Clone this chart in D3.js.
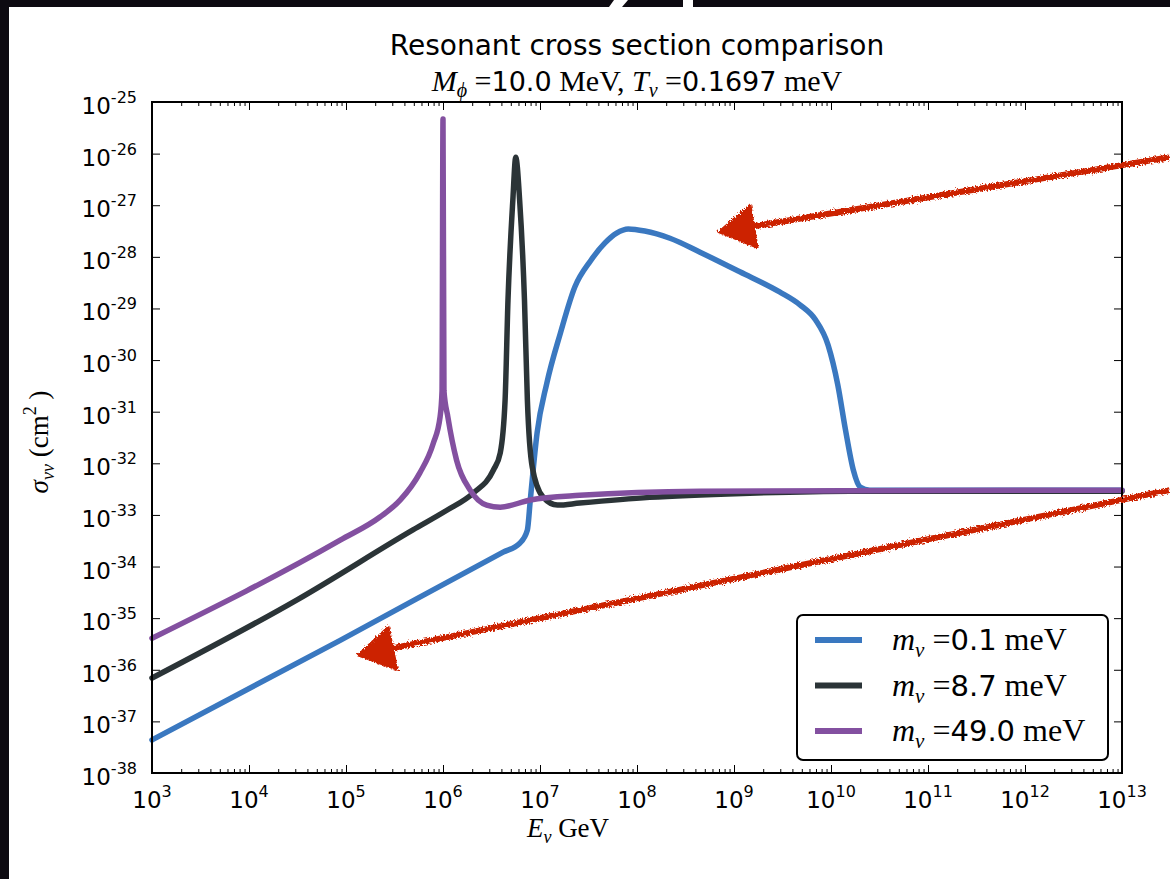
<!DOCTYPE html>
<meta charset="utf-8">
<style>
body { margin: 0; background: #0d0a11; }
svg { display: block; }
.axis path { display: none; }
.axis line { stroke: #000; stroke-width: 1; }
.sans { font-family: 'DejaVu Sans', sans-serif; }
.serif { font-family: 'Liberation Serif', serif; }
</style>
<body>
<script src="https://d3js.org/d3.v7.min.js"></script>
<script>

// ---- data (log10 values) ----
var labels = ["0.1", "8.7", "49.0"];
var colors = ["#3a78c0", "#2b3437", "#8350a0"];

var blueLogE = [3.00, 4.94, 6.62, 6.79, 6.87, 6.90, 6.97, 7.07, 7.21, 7.36, 7.52, 7.67, 7.79, 7.91, 8.08, 8.34, 8.65, 9.06, 9.47, 9.68, 9.84, 9.97, 10.07, 10.15, 10.23, 10.30, 10.40, 13.00];
var blueLogSigma = [-37.36, -35.43, -33.72, -33.55, -33.29, -32.71, -31.41, -30.45, -29.48, -28.58, -28.08, -27.73, -27.54, -27.46, -27.50, -27.64, -27.91, -28.29, -28.68, -28.93, -29.22, -29.71, -30.48, -31.36, -32.13, -32.46, -32.52, -32.52];

var blackLogE = [3.00, 4.50, 5.69, 6.04, 6.31, 6.52, 6.59, 6.64, 6.67, 6.72, 6.75, 6.79, 6.84, 6.87, 6.92, 7.03, 7.18, 7.41, 8.13, 9.16, 10.20, 13.00];
var blackLogSigma = [-36.16, -34.64, -33.29, -32.91, -32.58, -32.13, -31.80, -30.78, -28.84, -26.90, -26.07, -26.90, -28.84, -30.78, -32.07, -32.65, -32.81, -32.77, -32.66, -32.58, -32.54, -32.54];

var purpleLogE = [3.00, 4.94, 5.35, 5.56, 5.76, 5.90, 5.97, 5.99, 6.00, 6.01, 6.05, 6.14, 6.28, 6.45, 6.59, 6.90, 7.41, 8.65, 13.00];
var purpleLogSigma = [-35.39, -33.49, -33.04, -32.71, -32.19, -31.61, -31.10, -30.60, -25.33, -30.60, -31.10, -31.94, -32.52, -32.81, -32.85, -32.71, -32.62, -32.54, -32.52];

var xExponents = d3.range(3, 14);      // 10^3 .. 10^13
var yExponents = d3.range(-38, -24);   // 10^-38 .. 10^-25

// red hand-drawn arrows (tail -> tip), in log10 data units
var arrowTails = [[13.49, -26.07], [13.49, -32.52]];
var arrowTips  = [[8.84, -27.52], [5.12, -35.72]];

var W = 1170, H = 879;
var margin = {top: 102, right: 48, bottom: 106, left: 152};
var width = W - margin.left - margin.right,
    height = H - margin.top - margin.bottom;

var svg = d3.select("body").append("svg")
    .attr("width", W)
    .attr("height", H);

// slide background + white panel
svg.append("rect").attr("width", W).attr("height", H).attr("fill", "#0d0a11");
svg.append("rect").attr("x", 9).attr("y", 7).attr("width", W - 9).attr("height", H - 7).attr("fill", "#fff");
// bits of the slide heading peeking in at the top
svg.append("path").attr("d", "M614,0 L628,0 L622,7 L609,7 Z").attr("fill", "#fff");
svg.append("rect").attr("x", 683).attr("y", 0).attr("width", 10).attr("height", 7).attr("fill", "#fff");

var x = d3.scaleLog().domain([1e3, 1e13]).range([0, width]),
    y = d3.scaleLog().domain([1e-38, 1e-25]).range([height, 0]);

var g = svg.append("g").attr("transform", "translate(" + margin.left + "," + margin.top + ")");

// minor x ticks
var minor = [];
xExponents.slice(0, -1).forEach(function(e) {
  for (var k = 2; k < 10; k++) minor.push(k * Math.pow(10, e));
});
var majorX = xExponents.map(function(e) { return Math.pow(10, e); });
var majorY = yExponents.map(function(e) { return Math.pow(10, e); });

g.append("g").attr("class", "axis").attr("transform", "translate(0," + height + ")")
  .call(d3.axisBottom(x).tickValues(majorX).tickSize(-8).tickFormat(""));
g.append("g").attr("class", "axis").attr("transform", "translate(0," + height + ")")
  .call(d3.axisBottom(x).tickValues(minor).tickSize(-4).tickFormat(""));
g.append("g").attr("class", "axis")
  .call(d3.axisTop(x).tickValues(majorX).tickSize(-8).tickFormat(""));
g.append("g").attr("class", "axis")
  .call(d3.axisTop(x).tickValues(minor).tickSize(-4).tickFormat(""));
g.append("g").attr("class", "axis")
  .call(d3.axisLeft(y).tickValues(majorY).tickSize(-8).tickFormat(""));
g.append("g").attr("class", "axis").attr("transform", "translate(" + width + ",0)")
  .call(d3.axisRight(y).tickValues(majorY).tickSize(-8).tickFormat(""));

// tick labels with superscripts
var xl = g.append("g").selectAll("text").data(xExponents).enter().append("text")
    .attr("class", "sans")
    .attr("x", function(d) { return x(Math.pow(10, d)); })
    .attr("y", height + 35)
    .attr("text-anchor", "middle")
    .attr("font-size", 23);
xl.append("tspan").text("10");
xl.append("tspan").attr("dy", -11).attr("font-size", 16).text(function(d) { return d; });

var yl = g.append("g").selectAll("text").data(yExponents).enter().append("text")
    .attr("class", "sans")
    .attr("x", -15)
    .attr("y", function(d) { return y(Math.pow(10, d)) + 12; })
    .attr("text-anchor", "end")
    .attr("font-size", 23);
yl.append("tspan").text("10");
yl.append("tspan").attr("dy", -11).attr("font-size", 16).text(function(d) { return d; });

// curves
var series = [
  {e: blueLogE, s: blueLogSigma},
  {e: blackLogE, s: blackLogSigma},
  {e: purpleLogE, s: purpleLogSigma}
];

var line = d3.line()
    .curve(d3.curveMonotoneX)
    .x(function(d) { return x(Math.pow(10, d[0])); })
    .y(function(d) { return y(Math.pow(10, d[1])); });

series.forEach(function(sr, i) {
  g.append("path")
    .datum(sr.e.map(function(v, j) { return [v, sr.s[j]]; }))
    .attr("fill", "none")
    .attr("stroke", colors[i])
    .attr("stroke-width", 5.5)
    .attr("stroke-linejoin", "round")
    .attr("stroke-linecap", "round")
    .attr("d", line);
});

// frame
g.append("rect").attr("width", width).attr("height", height)
  .attr("fill", "none").attr("stroke", "#000").attr("stroke-width", 2);

// legend
var leg = g.append("g").attr("transform", "translate(" + (797 - margin.left) + "," + (615 - margin.top) + ")");
leg.append("rect").attr("width", 311).attr("height", 145).attr("rx", 6)
  .attr("fill", "#fff").attr("stroke", "#000").attr("stroke-width", 2);
labels.forEach(function(lab, i) {
  var yy = 25 + i * 45.5;
  leg.append("line").attr("x1", 18).attr("x2", 65).attr("y1", yy).attr("y2", yy)
    .attr("stroke", colors[i]).attr("stroke-width", 6);
  var t = leg.append("text").attr("x", 95).attr("y", yy + 10).attr("font-size", 32);
  t.append("tspan").attr("class", "serif").attr("font-style", "italic").text("m");
  t.append("tspan").attr("class", "serif").attr("font-style", "italic").attr("font-size", 21).attr("dy", 7).text("ν");
  t.append("tspan").attr("class", "serif").attr("dy", -7).text(" =");
  t.append("tspan").attr("class", "sans").attr("font-size", 29).text(lab);
  t.append("tspan").attr("class", "serif").text(" meV");
});

// arrows
var defs = svg.append("defs");
var f = defs.append("filter").attr("id", "rough").attr("x", "-10%").attr("y", "-10%").attr("width", "120%").attr("height", "120%");
f.append("feTurbulence").attr("type", "fractalNoise").attr("baseFrequency", 0.6).attr("numOctaves", 2).attr("seed", 3).attr("result", "n");
f.append("feDisplacementMap").attr("in", "SourceGraphic").attr("in2", "n").attr("scale", 5);

var arrows = g.append("g").attr("filter", "url(#rough)");
arrowTails.forEach(function(tail, i) {
  var tip = arrowTips[i];
  var x0 = x(Math.pow(10, tail[0])), y0 = y(Math.pow(10, tail[1])),
      x1 = x(Math.pow(10, tip[0])), y1 = y(Math.pow(10, tip[1]));
  var dx = x0 - x1, dy = y0 - y1, L = Math.sqrt(dx * dx + dy * dy);
  var ux = dx / L, uy = dy / L;
  var hl = 36, hw = 22;
  var bx = x1 + ux * hl, by = y1 + uy * hl;
  arrows.append("line").attr("x1", x0).attr("y1", y0).attr("x2", bx).attr("y2", by)
    .attr("stroke", "#cc2200").attr("stroke-width", 6);
  arrows.append("path")
    .attr("d", "M" + x1 + "," + y1 + "L" + (bx - uy * hw) + "," + (by + ux * hw) +
               "L" + (bx + uy * hw) + "," + (by - ux * hw) + "Z")
    .attr("fill", "#cc2200").attr("stroke", "#cc2200").attr("stroke-width", 2)
    .attr("stroke-linejoin", "round");
});

// titles
svg.append("text").attr("class", "sans").attr("x", margin.left + width / 2).attr("y", 55)
  .attr("text-anchor", "middle").attr("font-size", 28).text("Resonant cross section comparison");

var t2 = svg.append("text").attr("x", margin.left + width / 2).attr("y", 91)
  .attr("text-anchor", "middle").attr("font-size", 30);
t2.append("tspan").attr("class", "serif").attr("font-style", "italic").text("M");
t2.append("tspan").attr("class", "serif").attr("font-style", "italic").attr("font-size", 20).attr("dy", 6).text("ϕ");
t2.append("tspan").attr("class", "serif").attr("dy", -6).text(" =");
t2.append("tspan").attr("class", "sans").attr("font-size", 27).text("10.0");
t2.append("tspan").attr("class", "serif").text(" MeV, ");
t2.append("tspan").attr("class", "serif").attr("font-style", "italic").text("T");
t2.append("tspan").attr("class", "serif").attr("font-style", "italic").attr("font-size", 20).attr("dy", 6).text("ν");
t2.append("tspan").attr("class", "serif").attr("dy", -6).text(" =");
t2.append("tspan").attr("class", "sans").attr("font-size", 27).text("0.1697");
t2.append("tspan").attr("class", "serif").text(" meV");

// axis labels
var xlab = svg.append("text").attr("x", 568).attr("y", 837)
  .attr("text-anchor", "middle").attr("font-size", 27);
xlab.append("tspan").attr("class", "serif").attr("font-style", "italic").text("E");
xlab.append("tspan").attr("class", "serif").attr("font-style", "italic").attr("font-size", 18).attr("dy", 6).text("ν");
xlab.append("tspan").attr("class", "serif").attr("dy", -6).text("  GeV");

var ylab = svg.append("text").attr("transform", "translate(48,442) rotate(-90)")
  .attr("text-anchor", "middle").attr("font-size", 27);
ylab.append("tspan").attr("class", "serif").attr("font-style", "italic").text("σ");
ylab.append("tspan").attr("class", "serif").attr("font-style", "italic").attr("font-size", 18).attr("dy", 6).text("νν");
ylab.append("tspan").attr("class", "serif").attr("dy", -6).text("  (cm");
ylab.append("tspan").attr("class", "serif").attr("font-size", 18).attr("dy", -12).text("2");
ylab.append("tspan").attr("class", "serif").attr("dy", 12).text(" )");

</script>
</body>
